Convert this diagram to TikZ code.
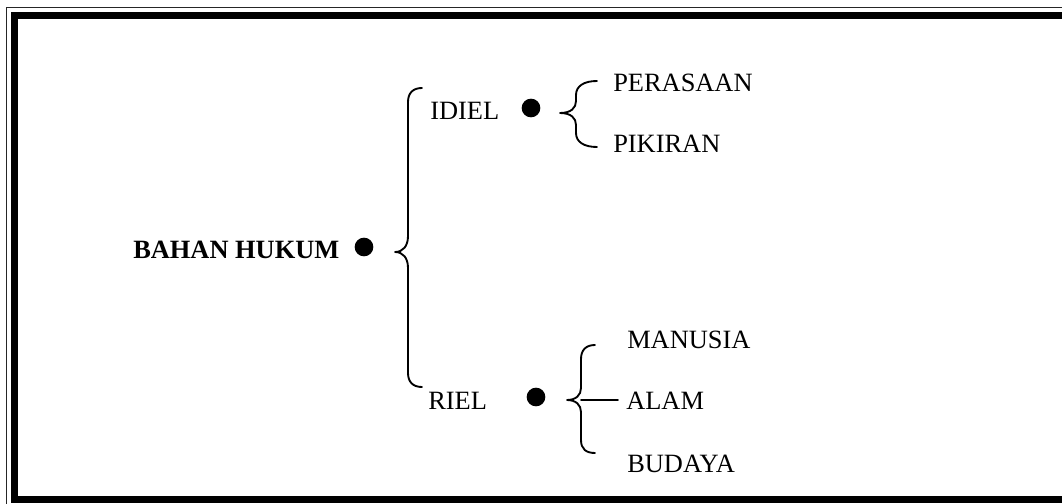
\documentclass[tikz,border=0pt]{standalone}
\usepackage{fontspec}
\setmainfont{Liberation Serif}
\begin{document}
\begin{tikzpicture}[x=0.75pt,y=-0.75pt,
  lbl/.style={anchor=base west,inner sep=0pt,font=\fontsize{19.8}{24}\selectfont},
  blbl/.style={lbl,font=\fontsize{19.8}{24}\selectfont\bfseries},
  dotmark/.style={circle,fill=black,inner sep=0pt,minimum size=14pt},
  brace/.style={line width=1.4pt,line join=round,line cap=round},
  thinframe/.style={line width=1.1pt,draw=black!85},
  thickframe/.style={line width=5pt,draw=black}]
\useasboundingbox (0,0) rectangle (1062,503);
\clip (0,0) rectangle (1062,503);
% frame
\draw[thinframe] (6.5,7.3) rectangle (1072,509);
\draw[thickframe] (14.3,15.8) rectangle (1065.2,499.5);
% texts
\node[blbl] (bahan) at (133,258) {BAHAN HUKUM};
\node[lbl] (idiel) at (430,119) {IDIEL};
\node[lbl] (perasaan) at (613,91) {PERASAAN};
\node[lbl] (pikiran) at (613,152) {PIKIRAN};
\node[lbl] (riel) at (428,409) {RIEL};
\node[lbl] (manusia) at (627,348) {MANUSIA};
\node[lbl] (alam) at (626,409) {ALAM};
\node[lbl] (budaya) at (627,472) {BUDAYA};
% dots
\node[dotmark] (d0) at (364,247) {};
\node[dotmark] (d1) at (531,108) {};
\node[dotmark] (d2) at (536,397) {};
% brace coordinates
\coordinate (b0top) at (422,88);
\coordinate (b0tip) at (395,252);
\coordinate (b0bot) at (422,387);
\coordinate (b1top) at (597,81);
\coordinate (b1tip) at (560,113);
\coordinate (b1bot) at (597,147);
\coordinate (b2top) at (595,345);
\coordinate (b2tip) at (567,400);
\coordinate (b2bot) at (595,453);
\coordinate (b2mid) at (581,400);
\coordinate (alamend) at (618,400);
% big brace
\draw[brace] (b0top) .. controls (413,88) and (408,93) .. (408,102) -- (408,236)
  .. controls (408,246) and (403,252) .. (b0tip)
  .. controls (403,252) and (408,258) .. (408,268) -- (408,373)
  .. controls (408,382) and (413,387) .. (b0bot);
% brace for IDIEL
\draw[brace] (b1top) .. controls (584,81) and (576,86) .. (576,95) -- (576,101)
  .. controls (576,108) and (571,113) .. (b1tip)
  .. controls (571,113) and (576,118) .. (576,125) -- (576,133)
  .. controls (576,142) and (584,147) .. (b1bot);
% brace for RIEL
\draw[brace] (b2top) .. controls (586,345) and (581,350) .. (581,359) -- (581,388)
  .. controls (581,395) and (576,400) .. (b2tip)
  .. controls (576,400) and (581,405) .. (581,412) -- (581,440)
  .. controls (581,449) and (586,453) .. (b2bot);
\draw[brace] (b2mid) -- (alamend);
\end{tikzpicture}
\end{document}
